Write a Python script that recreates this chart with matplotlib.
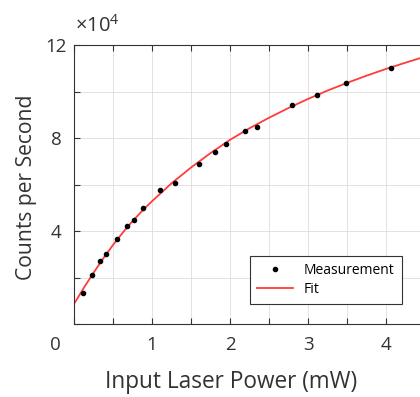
import numpy as np
import matplotlib
matplotlib.use("Agg")
import matplotlib.pyplot as plt
import matplotlib.transforms as mtransforms

plt.rcParams['font.family'] = ['Open Sans', 'DejaVu Sans']
plt.rcParams['mathtext.fontset'] = 'custom'
plt.rcParams['mathtext.rm'] = 'Open Sans'
plt.rcParams['mathtext.it'] = 'Open Sans'

# measured points, counts in units of 1e4
power_meas = [0.12, 0.23, 0.33, 0.41, 0.55, 0.68, 0.77, 0.89, 1.10, 1.30, 1.60,
              1.81, 1.95, 2.19, 2.35, 2.80, 3.11, 3.49, 4.06]
counts_meas = [1.35, 2.10, 2.69, 3.03, 3.65, 4.21, 4.47, 4.97, 5.75, 6.06, 6.90,
               7.41, 7.74, 8.30, 8.49, 9.41, 9.84, 10.36, 11.02]

# fit curve
power_fit = [0.0, 0.125, 0.25, 0.375, 0.5, 0.625, 0.75, 0.875, 1.0, 1.25, 1.5, 1.75,
             2.0, 2.25, 2.5, 2.75, 3.0, 3.25, 3.5, 3.75, 4.0, 4.25, 4.5]
counts_fit = [0.86, 1.55, 2.20, 2.82, 3.40, 3.93, 4.42, 4.87, 5.28, 6.05, 6.73, 7.35,
              7.92, 8.42, 8.87, 9.29, 9.68, 10.04, 10.37, 10.68, 10.97, 11.24, 11.50]

x_ticks = [0, 0.5, 1, 1.5, 2, 2.5, 3, 3.5, 4, 4.5]
x_ticklabels = ['0', '', '1', '', '2', '', '3', '', '4', '']
y_ticks = [0, 2, 4, 6, 8, 10, 12]
y_ticklabels = ['', '', '4', '', '8', '', '12']

fig = plt.figure(figsize=(4.2, 3.97), dpi=100)
ax = fig.add_axes([74/420, 73/397, 390/420, 279/397])

ax.plot(power_fit, counts_fit, color='#ff3b3b', lw=1.3, label='Fit', zorder=2)
ax.plot(power_meas, counts_meas, 'o', color='black', ms=3, label='Measurement', zorder=3)

ax.set_xlim(0, 5)
ax.set_ylim(0, 12)
ax.set_xticks(x_ticks)
ax.set_xticklabels(x_ticklabels)
ax.set_yticks(y_ticks)
ax.set_yticklabels(y_ticklabels, ha='center')
ax.tick_params(direction='in', length=4, width=0.8, colors='#333333', labelsize=13.5,
               top=True)
ax.tick_params(axis='x', pad=9)
ax.tick_params(axis='y', pad=13)
ax.grid(which='major', linestyle='-', linewidth=0.6, color='#dddddd')
ax.set_axisbelow(True)
for s in ['left', 'bottom', 'top']:
    ax.spines[s].set_color('#333333')
    ax.spines[s].set_linewidth(0.8)
ax.spines['right'].set_visible(False)

# the single "0" sits left of the origin
lab0 = ax.get_xticklabels()[0]
lab0.set_transform(lab0.get_transform() + mtransforms.ScaledTranslation(-0.19, 0, fig.dpi_scale_trans))

ax.set_xlabel('Input Laser Power (mW)', fontsize=16.3, color='#333333')
ax.xaxis.set_label_coords(0.403, -0.165)
ax.set_ylabel('Counts per Second', fontsize=15.2, color='#333333')
ax.yaxis.set_label_coords(-0.095, 0.491)
fig.text(75/420, 1 - 26/397, r'$\times 10^4$', fontsize=14.5, color='#333333', va='center')

h, l = ax.get_legend_handles_labels()
leg = ax.legend([h[1], h[0]], [l[1], l[0]], loc='lower left', bbox_to_anchor=(0.451, 0.072),
                borderaxespad=0, fontsize=10, fancybox=False, framealpha=1,
                edgecolor='#333333', handlelength=2.6, borderpad=0.5, labelspacing=0.3)
leg.get_frame().set_linewidth(0.8)

fig.savefig('out.png', dpi=100)
